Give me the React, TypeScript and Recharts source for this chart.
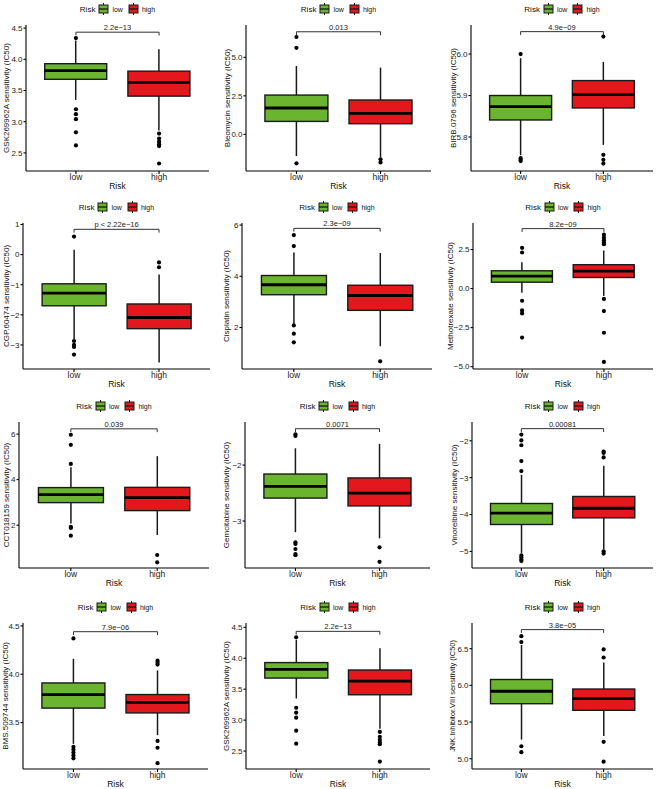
import React from 'react';
import { ComposedChart, Bar, Scatter, XAxis, YAxis, ReferenceLine, Legend } from 'recharts';

const RISK_GROUPS = ['low', 'high'];
const RISK_COLORS: Record<string, string> = { low: '#6AB42F', high: '#E3181D' };

// box stats per group (low, high): [lower whisker, Q1, median, Q3, upper whisker]
const gskStats = [[3.35, 3.68, 3.82, 3.93, 4.30], [2.86, 3.41, 3.63, 3.81, 4.16]];
const gskOutliers = [[4.34, 3.20, 3.12, 3.04, 2.83, 2.62], [2.81, 2.73, 2.68, 2.64, 2.61, 2.33]];
const gskTicks = [2.5, 3.0, 3.5, 4.0, 4.5];

const bleoStats = [[-1.41, 0.84, 1.71, 2.55, 4.44], [-1.49, 0.69, 1.36, 2.23, 4.33]];
const bleoOutliers = [[6.32, 5.62, -1.88], [-1.62, -1.82]];
const bleoTicks = [0, 2.5, 5.0];

const birbStats = [[5.756, 5.841, 5.873, 5.900, 5.990], [5.781, 5.870, 5.902, 5.936, 5.981]];
const birbOutliers = [[6.0, 5.749, 5.745, 5.742], [6.042, 5.757, 5.745, 5.736]];
const birbTicks = [5.8, 5.9, 6.0];

const cgpStats = [[-2.80, -1.70, -1.28, -0.97, 0.16], [-3.58, -2.46, -2.09, -1.64, -0.66]];
const cgpOutliers = [[0.60, -2.87, -3.00, -3.07, -3.32], [-0.26, -0.42]];
const cgpTicks = [-3, -2, -1, 0, 1];

const cisStats = [[2.15, 3.28, 3.67, 4.03, 4.93], [1.27, 2.67, 3.25, 3.65, 4.91]];
const cisOutliers = [[5.61, 5.18, 2.08, 1.76, 1.42], [0.68]];
const cisTicks = [2, 4, 6];

const mtxStats = [[-0.26, 0.41, 0.80, 1.14, 1.68], [-0.47, 0.71, 1.12, 1.53, 2.44]];
const mtxOutliers = [[2.61, 2.31, -0.78, -1.40, -1.59, -3.14], [3.45, 3.26, 3.10, 2.97, 2.84, -0.66, -1.44, -2.83, -4.70]];
const mtxTicks = [-5.0, -2.5, 0.0, 2.5];

const cctStats = [[2.07, 2.99, 3.34, 3.65, 4.54], [1.57, 2.64, 3.21, 3.66, 5.03]];
const cctOutliers = [[5.97, 5.53, 4.69, 1.93, 1.88, 1.54], [0.69, 0.37]];
const cctTicks = [2, 4, 6];

const gemStats = [[-3.20, -2.59, -2.38, -2.16, -1.70], [-3.31, -2.73, -2.50, -2.23, -1.62]];
const gemOutliers = [[-1.45, -1.48, -3.38, -3.41, -3.50, -3.59, -3.61], [-3.47, -3.73]];
const gemTicks = [-3, -2];

const vinStats = [[-5.04, -4.27, -3.96, -3.70, -2.92], [-4.94, -4.09, -3.83, -3.51, -2.68]];
const vinOutliers = [[-2.82, -2.55, -2.12, -1.99, -1.83, -5.11, -5.16, -5.22, -5.26], [-2.29, -2.33, -2.45, -5.00, -5.06]];
const vinTicks = [-5, -4, -3, -2];

const bmsStats = [[3.28, 3.65, 3.79, 3.91, 4.16], [3.37, 3.60, 3.71, 3.79, 4.04]];
const bmsOutliers = [[4.37, 3.25, 3.22, 3.19, 3.16, 3.13], [4.14, 4.12, 4.10, 3.31, 3.24, 3.08]];
const bmsTicks = [3.5, 4.0, 4.5];

const jnkStats = [[5.26, 5.75, 5.92, 6.08, 6.55], [5.31, 5.66, 5.82, 5.95, 6.31]];
const jnkOutliers = [[6.67, 6.59, 5.17, 5.09], [6.49, 6.38, 5.23, 4.96]];
const jnkTicks = [5.0, 5.5, 6.0, 6.5];

const PANELS = [
  { title: 'GSK269962A sensitivity (IC50)', stats: gskStats, outliers: gskOutliers, ticks: gskTicks, domain: [2.21, 4.55], dec: 1, bracket: 4.435, p: '2.2e\u221213' },
  { title: 'Bleomycin sensitivity (IC50)', stats: bleoStats, outliers: bleoOutliers, ticks: bleoTicks, domain: [-2.38, 7.1], dec: 1, bracket: 6.66, p: '0.013' },
  { title: 'BIRB.0796 sensitivity (IC50)', stats: birbStats, outliers: birbOutliers, ticks: birbTicks, domain: [5.718, 6.07], dec: 1, bracket: 6.054, p: '4.9e\u221209' },
  { title: 'CGP.60474 sensitivity (IC50)', stats: cgpStats, outliers: cgpOutliers, ticks: cgpTicks, domain: [-3.8, 1.05], dec: 0, bracket: 0.84, p: 'p < 2.22e\u221216' },
  { title: 'Cisplatin sensitivity (IC50)', stats: cisStats, outliers: cisOutliers, ticks: cisTicks, domain: [0.38, 6.08], dec: 0, bracket: 5.87, p: '2.3e\u221209' },
  { title: 'Methotrexate sensitivity (IC50)', stats: mtxStats, outliers: mtxOutliers, ticks: mtxTicks, domain: [-5.15, 4.2], dec: 1, bracket: 3.84, p: '8.2e\u221209' },
  { title: 'CCT018159 sensitivity (IC50)', stats: cctStats, outliers: cctOutliers, ticks: cctTicks, domain: [0.12, 6.53], dec: 0, bracket: 6.23, p: '0.039' },
  { title: 'Gemcitabine sensitivity (IC50)', stats: gemStats, outliers: gemOutliers, ticks: gemTicks, domain: [-3.84, -1.23], dec: 0, bracket: -1.35, p: '0.0071' },
  { title: 'Vinorelbine sensitivity (IC50)', stats: vinStats, outliers: vinOutliers, ticks: vinTicks, domain: [-5.45, -1.49], dec: 0, bracket: -1.67, p: '0.00081' },
  { title: 'BMS.509744 sensitivity (IC50)', stats: bmsStats, outliers: bmsOutliers, ticks: bmsTicks, domain: [3.02, 4.53], dec: 1, bracket: 4.44, p: '7.9e\u221206' },
  { title: 'GSK269962A sensitivity (IC50)', stats: gskStats, outliers: gskOutliers, ticks: gskTicks, domain: [2.21, 4.57], dec: 1, bracket: 4.435, p: '2.2e\u221213' },
  { title: 'JNK.Inhibitor.VIII sensitivity (IC50)', stats: jnkStats, outliers: jnkOutliers, ticks: jnkTicks, domain: [4.86, 6.85], dec: 1, bracket: 6.76, p: '3.8e\u221205' },
];

// layout of each panel: y-axis x, right edge of plot, y title x, y title size
const AXIS_X = [26, 26, 31, 23, 22, 33, 19, 25, 32, 23, 26, 32];
const RIGHT_EDGE = [209, 211, 213, 210, 212, 213, 209, 210, 213, 208, 210, 213];
const TITLE_X = [6, 7, 13, 6, 6, 10, 6, 6, 14, 5, 6, 12];
const TITLE_SIZE = [8, 8, 8, 8, 8, 8, 8, 8, 8, 8, 8, 7.4];
const ROW_TOPS = [0, 198, 397, 598];
const COL_LEFTS = [0, 220, 440];
const CHART_H = 193;
const INK = '#1a1a1a';

const fmt = (d: number) => (v: number) => (v < 0 ? '\u2212' : '') + Math.abs(v).toFixed(d);

const BoxShape = (props: any) => {
  const { x, y, width, height, payload } = props;
  const top = Math.min(y, y + height);
  const h = Math.abs(height);
  const ym = top + h * (payload.q3 - payload.med) / (payload.q3 - payload.q1);
  return (
    <g>
      <rect x={x} y={top} width={width} height={h} fill={RISK_COLORS[payload.risk]} stroke={INK} strokeWidth={1.4} />
      <line x1={x} x2={x + width} y1={ym} y2={ym} stroke="#000" strokeWidth={2.8} />
    </g>
  );
};

const WhiskerShape = (props: any) => {
  const { x, y, width, height } = props;
  const cx = x + width / 2;
  return <line x1={cx} x2={cx} y1={y} y2={y + height} stroke={INK} strokeWidth={1.5} />;
};

const OutlierDot = (props: any) => <circle cx={props.cx} cy={props.cy} r={2.1} fill="#000" />;

const YTitle = (props: any) => {
  const vb = props.viewBox || {};
  const cy = vb.y != null && vb.height != null ? vb.y + vb.height / 2 : 98;
  return (
    <text transform={`translate(${props.tx},${cy}) rotate(-90)`} textAnchor="middle" dominantBaseline="central" fontSize={props.size} fill="#111">
      {props.title}
    </text>
  );
};

const LegendIcon = ({ color }: { color: string }) => (
  <svg width={11} height={12} style={{ display: 'block' }}>
    <line x1={5.5} x2={5.5} y1={0} y2={12} stroke={INK} strokeWidth={1} />
    <rect x={1} y={2} width={9} height={8} fill={color} stroke={INK} strokeWidth={1} />
    <line x1={1} x2={10} y1={6} y2={6} stroke={INK} strokeWidth={1.3} />
  </svg>
);

const RiskLegend = () => (
  <div style={{ display: 'flex', alignItems: 'center', justifyContent: 'center', height: 18, fontSize: 7, color: '#111' }}>
    <span style={{ fontSize: 8, marginRight: 3 }}>Risk</span>
    <LegendIcon color={RISK_COLORS.low} />
    <span style={{ marginLeft: 3, marginRight: 5 }}>low</span>
    <LegendIcon color={RISK_COLORS.high} />
    <span style={{ marginLeft: 3 }}>high</span>
  </div>
);

function BoxPanel({ idx }: { idx: number }) {
  const cfg = PANELS[idx];
  const col = idx % 3;
  const width = col === 2 ? 221 : 220;
  const axisX = AXIS_X[idx];
  const right = width - RIGHT_EDGE[idx];
  const plotW = RIGHT_EDGE[idx] - axisX;
  const pad = plotW / 22;
  const tip = (cfg.domain[1] - cfg.domain[0]) * 3.3 / 146;

  const rows = RISK_GROUPS.map((g, i) => {
    const [lo, q1, med, q3, hi] = cfg.stats[i];
    return { risk: g, box: [q1, q3], whisker: [lo, hi], q1, med, q3 };
  });
  const points = RISK_GROUPS.flatMap((g, i) => cfg.outliers[i].map((v) => ({ risk: g, v })));
  const lineProps = { stroke: INK, strokeWidth: 0.9, ifOverflow: 'visible' as const };

  return (
    <ComposedChart width={width} height={CHART_H} data={rows} barCategoryGap="12.5%"
      margin={{ top: 7, right, bottom: 0, left: 0 }}>
      <Legend verticalAlign="top" content={<RiskLegend />}
        wrapperStyle={{ top: 0, left: axisX, width: plotW, height: 18 }} />
      <XAxis dataKey="risk" type="category" allowDuplicatedCategory={false}
        padding={{ left: pad, right: pad }} height={22} tickSize={3} tickMargin={0}
        tick={{ fontSize: 8.5, fill: '#222' }} stroke="#000" strokeWidth={1.1}
        label={{ value: 'Risk', position: 'insideBottom', offset: 4, fontSize: 8.5, fill: '#111' }} />
      <XAxis xAxisId="w" dataKey="risk" type="category" hide padding={{ left: pad, right: pad }} />
      <YAxis type="number" domain={cfg.domain} allowDataOverflow ticks={cfg.ticks} interval={0}
        tickFormatter={fmt(cfg.dec)} width={axisX} tickSize={2.5} tickMargin={1}
        tick={{ fontSize: 8, fill: '#222' }} stroke="#000" strokeWidth={1.1}
        label={<YTitle title={cfg.title} tx={TITLE_X[idx]} size={TITLE_SIZE[idx]} />} />
      <Bar xAxisId="w" dataKey="whisker" shape={<WhiskerShape />} isAnimationActive={false} />
      <Bar dataKey="box" shape={<BoxShape />} isAnimationActive={false} />
      <Scatter data={points} dataKey="v" shape={<OutlierDot />} isAnimationActive={false} />
      <ReferenceLine segment={[{ x: 'low', y: cfg.bracket }, { x: 'high', y: cfg.bracket }]} {...lineProps}
        label={{ value: cfg.p, position: 'top', offset: 2, fontSize: 7.5, fill: '#222' }} />
      <ReferenceLine segment={[{ x: 'low', y: cfg.bracket }, { x: 'low', y: cfg.bracket - tip }]} {...lineProps} />
      <ReferenceLine segment={[{ x: 'high', y: cfg.bracket }, { x: 'high', y: cfg.bracket - tip }]} {...lineProps} />
    </ComposedChart>
  );
}

export default function App() {
  return (
    <div style={{ position: 'absolute', left: 0, top: 0, width: 661, height: 789, overflow: 'hidden', background: '#fff', fontFamily: '"Liberation Sans", Arial, sans-serif' }}>
      {PANELS.map((_, i) => (
        <div key={i} style={{ position: 'absolute', left: COL_LEFTS[i % 3], top: ROW_TOPS[Math.floor(i / 3)] }}>
          <BoxPanel idx={i} />
        </div>
      ))}
    </div>
  );
}
